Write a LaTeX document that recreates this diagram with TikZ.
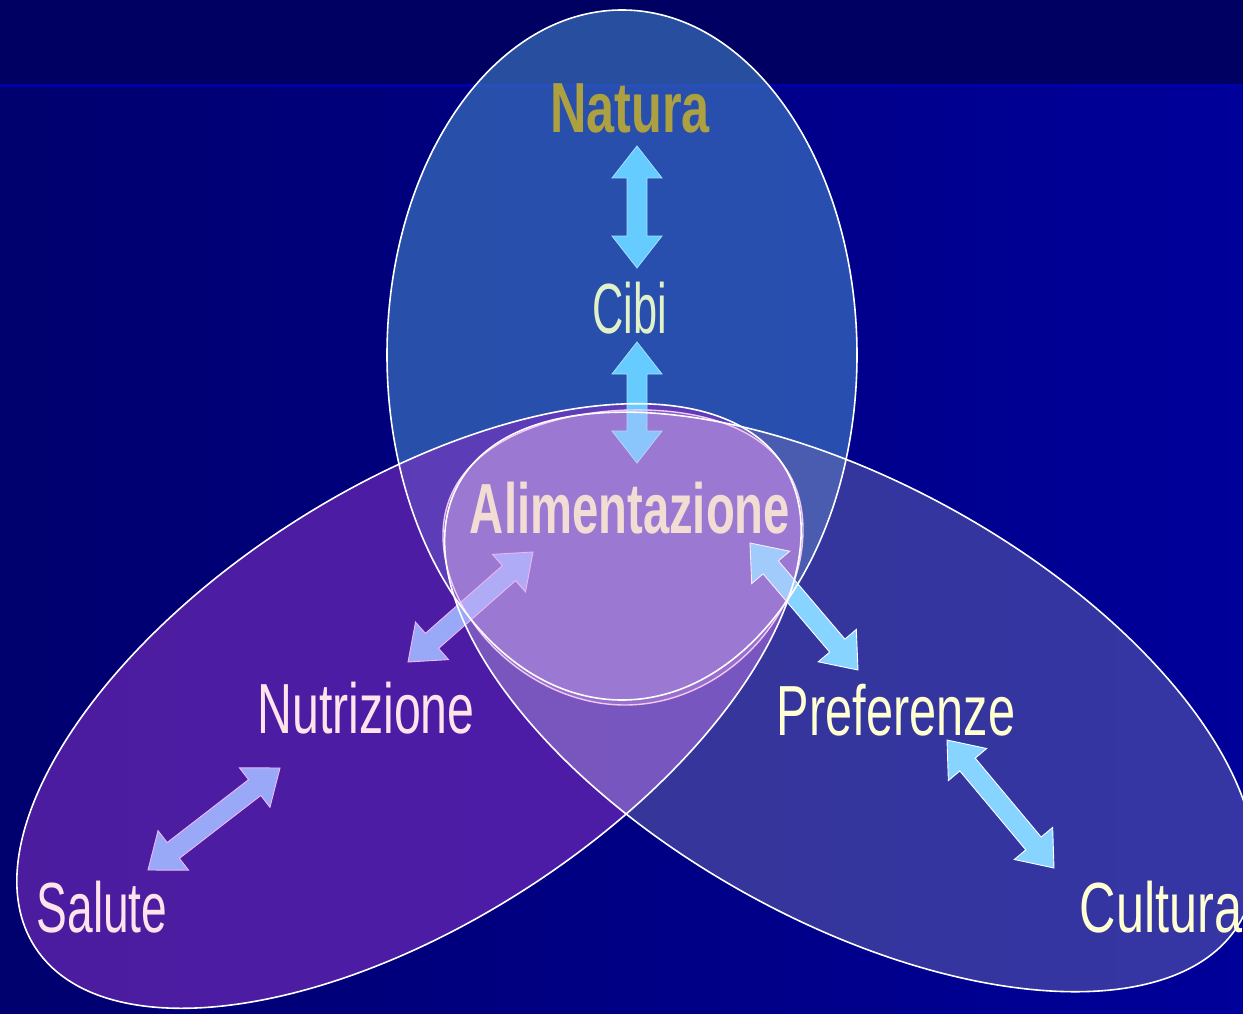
\documentclass[tikz,border=0pt]{standalone}
\usepackage{fontspec}
\setmainfont{Liberation Sans}
\usetikzlibrary{calc}
\definecolor{bandc}{HTML}{000062}
\definecolor{linec}{HTML}{0000A8}
\definecolor{bgleft}{HTML}{00006E}
\definecolor{bgright}{HTML}{00009A}
\definecolor{topfill}{HTML}{4385C8}
\definecolor{leftfill}{HTML}{8030C0}
\definecolor{rightfill}{HTML}{6A6AB0}
\definecolor{overlapfill}{HTML}{D090F8}
\definecolor{blobfill}{HTML}{E8B4F4}
\definecolor{blobedge}{HTML}{F4C8F4}
\definecolor{acyan}{HTML}{66CCFF}
\definecolor{alav}{HTML}{9AA8F8}
\definecolor{alavedge}{HTML}{F0B8F0}
\definecolor{aright}{HTML}{86D4FF}
\definecolor{natcol}{HTML}{ACA040}
\definecolor{cibicol}{HTML}{E2F2C8}
\definecolor{alimcol}{HTML}{F2DCD4}
\definecolor{pinkcol}{HTML}{FFE2EA}
\definecolor{yelcol}{HTML}{FFFFD2}
\def\ahl{32pt}
\def\ahw{25pt}
\def\asw{10pt}
\newcommand{\blockarr}[3]{%
  \draw[#1] (#2) -- ($(#2)!\ahl!(#3)!\ahw!90:(#3)$) -- ($(#2)!\ahl!(#3)!\asw!90:(#3)$)
    -- ($(#3)!\ahl!(#2)!\asw!-90:(#2)$) -- ($(#3)!\ahl!(#2)!\ahw!-90:(#2)$) -- (#3)
    -- ($(#3)!\ahl!(#2)!\ahw!90:(#2)$) -- ($(#3)!\ahl!(#2)!\asw!90:(#2)$)
    -- ($(#2)!\ahl!(#3)!\asw!-90:(#3)$) -- ($(#2)!\ahl!(#3)!\ahw!-90:(#3)$) -- cycle;}
\tikzset{
  lbl/.style={inner sep=0pt, anchor=base, font=\fontsize{71}{80}\selectfont},
  outline/.style={draw=white, line width=1.6pt},
  arrtop/.style={fill=acyan, draw=acyan!60!white, line width=0.8pt},
  arrleft/.style={fill=alav, draw=alavedge, line width=0.9pt},
  arrright/.style={fill=aright, draw=white, line width=0.9pt},
  lefte/.style={rotate around={32.8:(cl)}},
  righte/.style={rotate around={-29.2:(cr)}},
}
\begin{document}
\begin{tikzpicture}[x=1pt,y=-1pt]
\useasboundingbox (0,0) rectangle (1243,1014);
% background
\shade[left color=bgleft, right color=bgright] (0,85) rectangle (1243,1014);
\fill[bandc] (0,0) rectangle (1243,85);
\fill[linec] (0,84) rectangle (1243,87);
% centres
\coordinate (ct) at (622,355);
\coordinate (cl) at (409,706);
\coordinate (cr) at (850,702);
% fills
\fill[topfill, opacity=0.6] (ct) ellipse [x radius=235, y radius=345];
\fill[leftfill, opacity=0.6, lefte] (cl) ellipse [x radius=445, y radius=217];
\fill[rightfill, opacity=0.5, righte] (cr) ellipse [x radius=448, y radius=218];
\begin{scope}
  \clip[lefte] (cl) ellipse [x radius=445, y radius=217];
  \fill[overlapfill, opacity=0.25, righte] (cr) ellipse [x radius=448, y radius=218];
\end{scope}
% arrow end points
\coordinate (n1) at (637,146);
\coordinate (c1) at (637,268);
\coordinate (c2) at (637,342);
\coordinate (a1) at (637,463);
\coordinate (a2) at (533,552);
\coordinate (nu1) at (408,662);
\coordinate (nu2) at (280,768);
\coordinate (s1) at (148,870);
\coordinate (a3) at (750,543);
\coordinate (p1) at (858,670);
\coordinate (p2) at (947,740);
\coordinate (cu1) at (1054,868);
% arrows
\blockarr{arrtop}{n1}{c1}
\blockarr{arrtop}{c2}{a1}
\blockarr{arrleft}{a2}{nu1}
\blockarr{arrleft}{nu2}{s1}
\blockarr{arrright}{a3}{p1}
\blockarr{arrright}{p2}{cu1}
% central blob
\path[fill=blobfill, fill opacity=0.28, draw=blobedge, line width=1.4pt]
  (630,410) .. controls (720,408) and (803,440) .. (803,530)
  .. controls (803,620) and (720,705) .. (625,705)
  .. controls (530,705) and (443,620) .. (443,535)
  .. controls (443,450) and (540,412) .. (630,410);
% outlines
\draw[outline] (ct) ellipse [x radius=235, y radius=345];
\draw[outline, lefte] (cl) ellipse [x radius=445, y radius=217];
\draw[outline, righte] (cr) ellipse [x radius=448, y radius=218];
% labels
\node[lbl, text=natcol] (natura) at (630,133) {\bfseries\scalebox{0.71}[1]{Natura}};
\node[lbl, text=cibicol] (cibi) at (630,333) {\scalebox{0.61}[1]{Cibi}};
\node[lbl, text=alimcol] (alim) at (630,533) {\bfseries\scalebox{0.665}[1]{Alimentazione}};
\node[lbl, text=pinkcol] (nutr) at (366,733) {\scalebox{0.68}[1]{Nutrizione}};
\node[lbl, text=pinkcol] (salute) at (102,932) {\scalebox{0.65}[1]{Salute}};
\node[lbl, text=yelcol] (pref) at (896,735) {\scalebox{0.686}[1]{Preferenze}};
\node[lbl, text=yelcol] (cultura) at (1161,932) {\scalebox{0.71}[1]{Cultura}};
\end{tikzpicture}
\end{document}
